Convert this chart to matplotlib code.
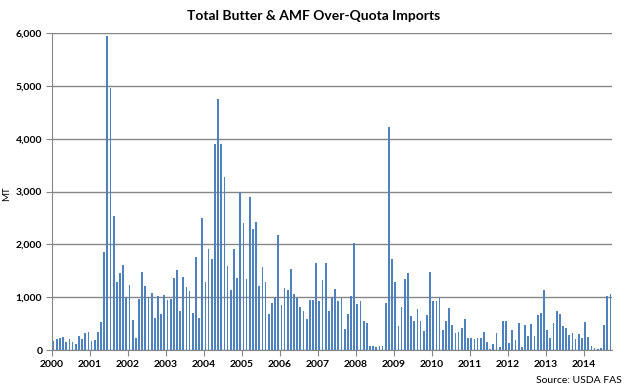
import matplotlib
matplotlib.use("Agg")
import matplotlib.pyplot as plt
import numpy as np

# monthly over-quota imports, MT (Jan 2000 - Sep 2014)
years = list(range(2000, 2015))
imports_2000 = [170, 208, 234, 246, 158, 208, 158, 120, 265, 208, 322, 341]
imports_2001 = [170, 190, 341, 531, 1857, 5951, 4965, 2540, 1289, 1459, 1611, 998]
imports_2002 = [1232, 569, 227, 960, 1478, 1213, 998, 1080, 606, 1023, 682, 1042]
imports_2003 = [948, 966, 1364, 1516, 739, 1383, 1194, 1118, 701, 1762, 606, 2501]
imports_2004 = [1289, 1914, 1725, 3904, 4757, 3904, 3279, 1592, 1137, 1914, 1364, 3000]
imports_2005 = [2407, 1345, 2900, 2293, 2426, 1213, 1573, 1289, 682, 891, 985, 2179]
imports_2006 = [853, 1175, 1137, 1535, 1061, 985, 815, 739, 587, 948, 948, 1649]
imports_2007 = [929, 1327, 1649, 739, 1004, 1156, 929, 985, 398, 682, 1023, 2028]
imports_2008 = [872, 929, 550, 512, 76, 76, 57, 76, 76, 891, 4226, 1725]
imports_2009 = [1289, 455, 815, 1345, 1459, 644, 550, 777, 550, 360, 663, 1478]
imports_2010 = [929, 929, 1004, 379, 550, 796, 474, 322, 341, 417, 587, 227]
imports_2011 = [227, 208, 227, 227, 341, 152, 19, 114, 322, 57, 550, 550]
imports_2012 = [133, 379, 190, 512, 57, 474, 265, 493, 265, 663, 701, 1137]
imports_2013 = [379, 227, 512, 739, 682, 455, 417, 284, 322, 208, 303, 227]
imports_2014 = [531, 246, 76, 38, 19, 38, 474, 1023, 1061]

values = (imports_2000 + imports_2001 + imports_2002 + imports_2003 + imports_2004
          + imports_2005 + imports_2006 + imports_2007 + imports_2008 + imports_2009
          + imports_2010 + imports_2011 + imports_2012 + imports_2013 + imports_2014)

plt.rcParams['font.family'] = ['Lato', 'DejaVu Sans']

fig = plt.figure(figsize=(6.28, 3.88), dpi=100)
ax = fig.add_axes([52 / 628, 38 / 388, 560 / 628, 317 / 388])

x = np.arange(len(values))
ax.bar(x, values, width=0.55, color='#4F81BD', zorder=3)

ax.set_xlim(-0.5, len(values) - 0.5)
ax.set_ylim(0, 6000)
ax.set_yticks(np.arange(0, 6001, 1000))
ax.set_yticklabels([f"{v:,}" for v in range(0, 6001, 1000)], fontsize=7.5, fontweight='bold')
ax.set_xticks([-0.5 + 12 * i for i in range(len(years))])
ax.set_xticklabels([str(y) for y in years], fontsize=7.5, fontweight='bold')

ax.grid(axis='y', color='#868686', linewidth=1, zorder=0)
for s in ['top', 'right']:
    ax.spines[s].set_visible(False)
for s in ['left', 'bottom']:
    ax.spines[s].set_color('#868686')
ax.tick_params(axis='both', colors='#868686', length=4, labelcolor='black')
ax.tick_params(axis='y', pad=3)

fig.text(0.5, 0.96, "Total Butter & AMF Over-Quota Imports", ha='center', va='center',
         fontsize=10, fontweight='bold')
fig.text(0.011, 0.5, "MT", rotation=90, ha='center', va='center', fontsize=7)
fig.text(0.99, 0.02, "Source: USDA FAS", ha='right', va='center', fontsize=7.5)

fig.savefig("out.png", dpi=100)
